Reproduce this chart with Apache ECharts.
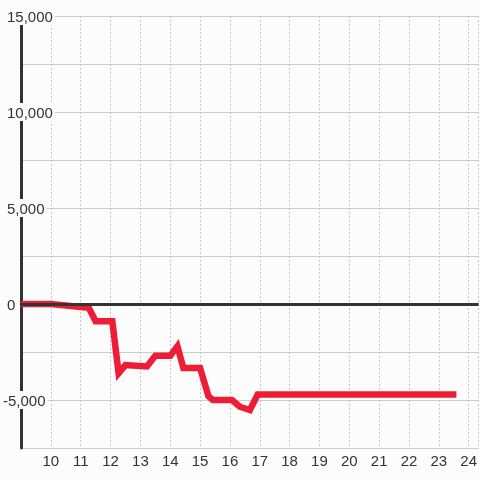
<!DOCTYPE html>
<html>
<head>
<meta charset="utf-8">
<script src="https://cdn.jsdelivr.net/npm/echarts@6/dist/echarts.min.js"></script>
<style>
html,body{margin:0;padding:0;background:#fcfcfc;}
#chart{width:480px;height:480px;}
</style>
</head>
<body>
<div id="chart"></div>
<script>
// Hours of the day (x) and running value (y)
const hours = [9.0, 10.0, 11.27, 11.5, 12.06, 12.27, 12.5, 13.22, 13.5, 14.0, 14.24, 14.44, 15.0, 15.28, 15.43, 16.07, 16.33, 16.67, 16.93, 23.59];
const values = [0, 0, -200, -900, -900, -3600, -3180, -3250, -2700, -2700, -2200, -3330, -3330, -4800, -5000, -5000, -5350, -5520, -4720, -4720];
const xTicks = [10, 11, 12, 13, 14, 15, 16, 17, 18, 19, 20, 21, 22, 23, 24];
const yTicks = [-5000, 0, 5000, 10000, 15000];

const bg = '#fcfcfc';
const font = 'Liberation Sans, Arial, sans-serif';
const chart = echarts.init(document.getElementById('chart'), null, {renderer: 'canvas'});
chart.setOption({
  backgroundColor: bg,
  animation: false,
  grid: {left: 20, right: 0, top: 16, bottom: 32, containLabel: false},
  xAxis: {
    type: 'value', min: 9, max: 24.3333, interval: 1,
    axisLine: {show: false}, axisTick: {show: false},
    axisLabel: {
      margin: 6, color: '#333', fontSize: 15, fontFamily: font,
      showMinLabel: false, showMaxLabel: false,
      formatter: v => xTicks.indexOf(v) >= 0 ? String(v) : ''
    },
    splitLine: {show: true, lineStyle: {color: '#c8c8c8', type: [2, 2], width: 1}}
  },
  yAxis: {
    type: 'value', min: -7500, max: 15000, interval: 2500,
    axisLine: {show: true, lineStyle: {color: '#333', width: 3}},
    axisTick: {show: false},
    axisLabel: {
      inside: false, align: 'left', margin: 18, color: '#333', fontSize: 15,
      fontFamily: font,
      backgroundColor: bg, padding: [3, 2, 0, 0], lineHeight: 15,
      rich: {s: {width: 4, fontSize: 15, fontFamily: font, lineHeight: 15}},
      formatter: v => {
        if (yTicks.indexOf(v) < 0) return '';
        const s = v.toLocaleString('en-US');
        return v < 0 ? s : '{s| }' + s;
      }
    },
    splitLine: {show: true, lineStyle: {color: '#cccccc', width: 1}}
  },
  series: [
    {
      type: 'line', data: [], z: 1, silent: true,
      markLine: {
        silent: true, symbol: 'none', label: {show: false},
        lineStyle: {color: '#333', width: 3, type: 'solid'},
        data: [{yAxis: 0}]
      }
    },
    {
      type: 'line', z: 3, silent: true,
      data: hours.map((h, i) => [h, values[i]]),
      showSymbol: false, symbol: 'none',
      lineStyle: {color: '#ec1d34', width: 6.5, cap: 'butt', join: 'miter'}
    }
  ]
});
</script>
</body>
</html>
